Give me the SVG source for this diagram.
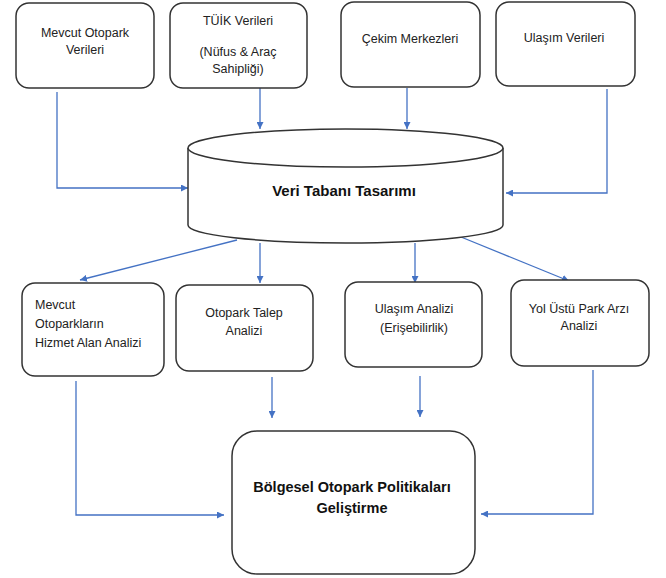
<svg xmlns="http://www.w3.org/2000/svg" width="666" height="578" viewBox="0 0 666 578">
<style>
.box{fill:#fff;stroke:#333;stroke-width:1.5}
.t{font-family:"Liberation Sans",Arial,sans-serif;font-size:12.5px;fill:#222;text-anchor:middle}
.tl{text-anchor:start}
.b{font-family:"Liberation Sans",Arial,sans-serif;font-weight:bold;fill:#111;text-anchor:middle}
.c{fill:none;stroke:#4472C4;stroke-width:1.3}
</style>
<defs>
<marker id="ah" viewBox="0 0 10 10" refX="10" refY="5" markerWidth="7" markerHeight="7" markerUnits="userSpaceOnUse" orient="auto">
<path d="M0,0 L10,5 L0,10 z" fill="#4472C4"/>
</marker>
</defs>
<rect width="666" height="578" fill="#fff"/>
<g id="connectors">
<path class="c" d="M57,92 V188 H188" marker-end="url(#ah)"/>
<path class="c" d="M260,88 V129" marker-end="url(#ah)"/>
<path class="c" d="M407,88 V129" marker-end="url(#ah)"/>
<path class="c" d="M607,89 V193 H506" marker-end="url(#ah)"/>
<path class="c" d="M237,240 L80,280" marker-end="url(#ah)"/>
<path class="c" d="M260,243 V283" marker-end="url(#ah)"/>
<path class="c" d="M415,243 V283" marker-end="url(#ah)"/>
<path class="c" d="M461,237 L569,281" marker-end="url(#ah)"/>
<path class="c" d="M76,381 V515 H224" marker-end="url(#ah)"/>
<path class="c" d="M272,377 V418" marker-end="url(#ah)"/>
<path class="c" d="M420,376 V417" marker-end="url(#ah)"/>
<path class="c" d="M593,370 V514 H481" marker-end="url(#ah)"/>
</g>
<g id="mevcut-otopark-verileri">
<rect class="box" x="16" y="3" width="138" height="85" rx="13"/>
<text class="t" x="85" y="37">Mevcut Otopark</text>
<text class="t" x="85" y="53.5">Verileri</text>
</g>
<g id="tuik-verileri">
<rect class="box" x="170" y="3" width="137" height="85" rx="13"/>
<text class="t" x="238" y="25">TÜİK Verileri</text>
<text class="t" x="238" y="56">(Nüfus &amp; Araç</text>
<text class="t" x="238" y="73">Sahipliği)</text>
</g>
<g id="cekim-merkezleri">
<rect class="box" x="341" y="2" width="139" height="85" rx="13"/>
<text class="t" x="410" y="43">Çekim Merkezleri</text>
</g>
<g id="ulasim-verileri">
<rect class="box" x="496" y="2" width="139" height="84" rx="13"/>
<text class="t" x="564" y="42">Ulaşım Verileri</text>
</g>
<g id="veri-tabani">
<path class="box" d="M188,148 V225 A157.5,18 0 0 0 503,225 V148"/>
<ellipse class="box" cx="345.5" cy="148" rx="157.5" ry="19"/>
<text class="b" x="344" y="196" font-size="15">Veri Tabanı Tasarımı</text>
</g>
<g id="hizmet-alan-analizi">
<rect class="box" x="22" y="283" width="142" height="93" rx="13"/>
<text class="t tl" x="35" y="309">Mevcut</text>
<text class="t tl" x="35" y="328">Otoparkların</text>
<text class="t tl" x="35" y="347">Hizmet Alan Analizi</text>
</g>
<g id="otopark-talep-analizi">
<rect class="box" x="176" y="285" width="137" height="86" rx="13"/>
<text class="t" x="244" y="317">Otopark Talep</text>
<text class="t" x="244" y="335">Analizi</text>
</g>
<g id="ulasim-analizi">
<rect class="box" x="345" y="282" width="137" height="85" rx="13"/>
<text class="t" x="414" y="313">Ulaşım Analizi</text>
<text class="t" x="414" y="332">(Erişebilirlik)</text>
</g>
<g id="yol-ustu-park">
<rect class="box" x="511" y="280" width="138" height="86" rx="13"/>
<text class="t" x="579" y="313">Yol Üstü Park Arzı</text>
<text class="t" x="579" y="330">Analizi</text>
</g>
<g id="bolgesel-otopark">
<rect class="box" x="232" y="431" width="243" height="143" rx="25"/>
<text class="b" x="352" y="492" font-size="14.5">Bölgesel Otopark Politikaları</text>
<text class="b" x="352" y="513" font-size="14.5">Geliştirme</text>
</g>
</svg>
